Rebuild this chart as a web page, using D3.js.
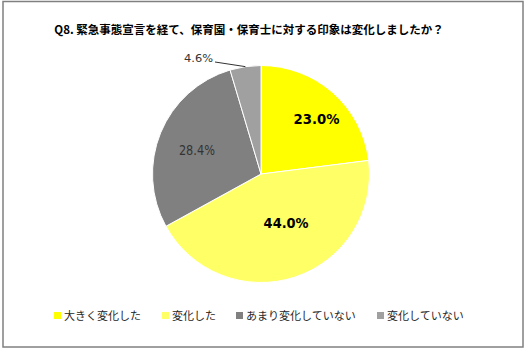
<!DOCTYPE html>
<html>
<head>
<meta charset="utf-8">
<script src="https://cdn.jsdelivr.net/npm/d3@7"></script>
<style>
  body { margin: 0; background: #fff; }
  text { font-family: "Noto Sans CJK JP", "DejaVu Sans", sans-serif; }
  text.num { font-family: "DejaVu Sans", sans-serif; }
</style>
</head>
<body>
<div id="chart"></div>
<script>
var title = "Q8. 緊急事態宣言を経て、保育園・保育士に対する印象は変化しましたか？";
var categories = ["大きく変化した", "変化した", "あまり変化していない", "変化していない"];
var values = [23.0, 44.0, 28.4, 4.6];
var colors = ["#ffff00", "#ffff66", "#808080", "#a0a0a0"];

var width = 530, height = 353;
var cx = 261, cy = 174, radius = 108.5;

var svg = d3.select("#chart")
  .append("svg")
  .attr("width", width)
  .attr("height", height);

// outer frame
svg.append("rect")
  .attr("x", 3).attr("y", 1.5)
  .attr("width", 520).attr("height", 345.5)
  .attr("fill", "#fff")
  .attr("stroke", "#808080")
  .attr("stroke-width", 1.5);

svg.append("text")
  .attr("x", 249).attr("y", 34)
  .attr("text-anchor", "middle")
  .style("font-size", "11.5px")
  .style("font-weight", "bold")
  .attr("fill", "#000")
  .text(title);

var pie = d3.pie().sort(null).value(function(d) { return d; });
var arcs = pie(values);
var arc = d3.arc().innerRadius(0).outerRadius(radius);

var g = svg.append("g").attr("transform", `translate(${cx},${cy})`);

g.selectAll("path.slice")
  .data(arcs)
  .enter()
  .append("path")
  .attr("class", "slice")
  .attr("d", arc)
  .attr("fill", function(d, i) { return colors[i]; })
  .attr("stroke", "#fff")
  .attr("stroke-width", 1);

// label placement (radius factor, angle shift in degrees, text width)
var labelStyle = [
  { r: 0.72, shift: 4, size: 13.5, weight: "bold", fill: "#000", w: 46 },
  { r: 0.51, shift: -9, size: 13.5, weight: "bold", fill: "#000", w: 45 },
  { r: 0.63, shift: -2, size: 13.5, weight: "normal", fill: "#333", w: 36 },
  null
];

arcs.forEach(function(d, i) {
  var s = labelStyle[i];
  var txt = d3.format(".1f")(d.data) + "%";
  if (s) {
    var a = (d.startAngle + d.endAngle) / 2 + s.shift * Math.PI / 180;
    g.append("text")
      .attr("class", "num")
      .attr("x", Math.sin(a) * radius * s.r)
      .attr("y", -Math.cos(a) * radius * s.r)
      .attr("dy", "0.36em")
      .attr("text-anchor", "middle")
      .attr("textLength", s.w)
      .attr("lengthAdjust", "spacingAndGlyphs")
      .style("font-size", s.size + "px")
      .style("font-weight", s.weight)
      .attr("fill", s.fill)
      .text(txt);
  } else {
    // small slice: label outside with leader line
    var a2 = (d.startAngle + d.endAngle) / 2;
    var ex = Math.sin(a2) * radius, ey = -Math.cos(a2) * radius;
    g.append("path")
      .attr("d", `M${ex},${ey} L${-46},${-112}`)
      .attr("stroke", "#333")
      .attr("fill", "none")
      .attr("stroke-width", 1);
    g.append("text")
      .attr("class", "num")
      .attr("x", -77).attr("y", -115.5)
      .attr("dy", "0.36em")
      .attr("textLength", 29)
      .attr("lengthAdjust", "spacingAndGlyphs")
      .style("font-size", "11px")
      .attr("fill", "#333")
      .text(txt);
  }
});

// legend
var legendX = [54, 162, 236, 377];
var legend = svg.selectAll("g.legend")
  .data(categories)
  .enter()
  .append("g")
  .attr("class", "legend")
  .attr("transform", function(d, i) { return `translate(${legendX[i]},312)`; });

legend.append("rect")
  .attr("width", 7).attr("height", 7)
  .attr("fill", function(d, i) { return colors[i]; });

legend.append("text")
  .attr("x", 10).attr("y", 7.5)
  .style("font-size", "11px")
  .attr("fill", "#262626")
  .text(function(d) { return d; });
</script>
</body>
</html>
